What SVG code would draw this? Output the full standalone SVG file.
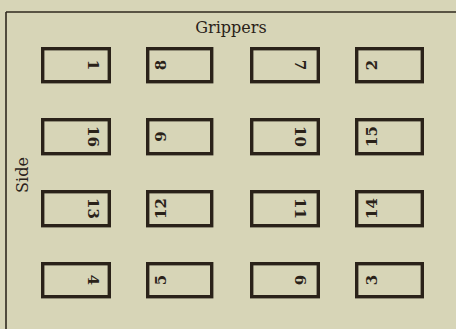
<svg xmlns="http://www.w3.org/2000/svg" width="456" height="329" viewBox="0 0 456 329">
<style>
.pg{fill:none;stroke:#2a2219;stroke-width:3.4}
.num{font-family:"DejaVu Serif","Liberation Serif",serif;font-size:15px;font-weight:bold;fill:#2a2219;text-anchor:middle;dominant-baseline:central}
.lbl{font-family:"DejaVu Serif","Liberation Serif",serif;font-size:16px;fill:#2a2219;text-anchor:middle}
</style>
<rect width="456" height="329" fill="#d7d5b7"/>
<g id="frame" stroke="#2f281e" stroke-width="1.6" fill="none">
<line x1="6" y1="12" x2="456" y2="12"/>
<line x1="6" y1="12" x2="6" y2="329"/>
</g>
<text class="lbl" x="231" y="33">Grippers</text>
<text class="lbl" transform="translate(28,175) rotate(-90)">Side</text>
<g id="p1"><rect class="pg" x="42.7" y="48.7" width="66.6" height="33"/><text class="num" transform="translate(93,65) rotate(90)">1</text></g>
<g id="p16"><rect class="pg" x="42.7" y="119.7" width="66.6" height="34"/><text class="num" transform="translate(93,136.5) rotate(90)">16</text></g>
<g id="p13"><rect class="pg" x="42.7" y="191.7" width="66.6" height="34"/><text class="num" transform="translate(93,208.5) rotate(90)">13</text></g>
<g id="p4"><rect class="pg" x="42.7" y="263.7" width="66.6" height="33"/><text class="num" transform="translate(93,280) rotate(90)">4</text></g>
<g id="p8"><rect class="pg" x="147.7" y="48.7" width="64" height="33"/><text class="num" transform="translate(161,65) rotate(-90)">8</text></g>
<g id="p9"><rect class="pg" x="147.7" y="119.7" width="64" height="34"/><text class="num" transform="translate(161,136.5) rotate(-90)">9</text></g>
<g id="p12"><rect class="pg" x="147.7" y="191.7" width="64" height="34"/><text class="num" transform="translate(161,208.5) rotate(-90)">12</text></g>
<g id="p5"><rect class="pg" x="147.7" y="263.7" width="64" height="33"/><text class="num" transform="translate(161,280) rotate(-90)">5</text></g>
<g id="p7"><rect class="pg" x="251.7" y="48.7" width="66.6" height="33"/><text class="num" transform="translate(300,65) rotate(90)">7</text></g>
<g id="p10"><rect class="pg" x="251.7" y="119.7" width="66.6" height="34"/><text class="num" transform="translate(300,136.5) rotate(90)">10</text></g>
<g id="p11"><rect class="pg" x="251.7" y="191.7" width="66.6" height="34"/><text class="num" transform="translate(300,208.5) rotate(90)">11</text></g>
<g id="p6"><rect class="pg" x="251.7" y="263.7" width="66.6" height="33"/><text class="num" transform="translate(300,280) rotate(90)">6</text></g>
<g id="p2"><rect class="pg" x="356.7" y="48.7" width="65.6" height="33"/><text class="num" transform="translate(372,65) rotate(-90)">2</text></g>
<g id="p15"><rect class="pg" x="356.7" y="119.7" width="65.6" height="34"/><text class="num" transform="translate(372,136.5) rotate(-90)">15</text></g>
<g id="p14"><rect class="pg" x="356.7" y="191.7" width="65.6" height="34"/><text class="num" transform="translate(372,208.5) rotate(-90)">14</text></g>
<g id="p3"><rect class="pg" x="356.7" y="263.7" width="65.6" height="33"/><text class="num" transform="translate(372,280) rotate(-90)">3</text></g>
<g id="connectors"/>
</svg>
